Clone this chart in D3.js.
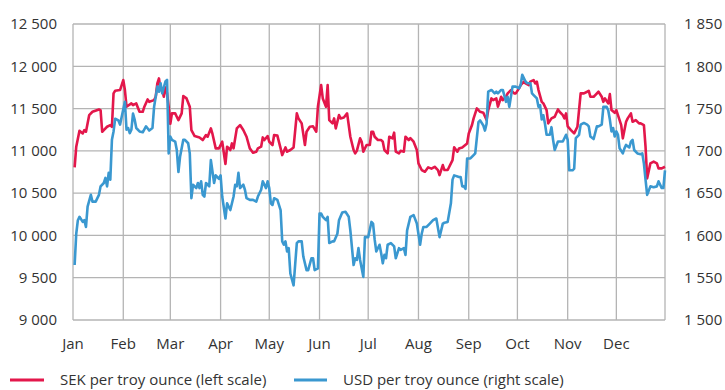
<!DOCTYPE html>
<html>
<head>
<meta charset="utf-8">
<script src="https://cdn.jsdelivr.net/npm/d3@7"></script>
<style>
  html, body { margin: 0; padding: 0; background: #fff; }
  svg { display: block; font-family: "Open Sans", "Noto Sans", sans-serif; }
</style>
</head>
<body>
<svg id="chart" width="725" height="390"></svg>
<script>
// Gold price 2012: SEK per troy ounce (left scale) and USD per troy ounce (right scale)
const monthLabels = ["Jan","Feb","Mar","Apr","May","Jun","Jul","Aug","Sep","Oct","Nov","Dec"];
const sekTicks = [9000, 9500, 10000, 10500, 11000, 11500, 12000, 12500];
const usdTicks = [1500, 1550, 1600, 1650, 1700, 1750, 1800, 1850];
const legendLabels = ["SEK per troy ounce (left scale)", "USD per troy ounce (right scale)"];

const sekSeries = [["2012-01-02",10805],["2012-01-03",11049],["2012-01-05",11237],["2012-01-07",11206],["2012-01-08",11246],["2012-01-09",11226],["2012-01-11",11423],["2012-01-13",11462],["2012-01-17",11490],["2012-01-18",11482],["2012-01-19",11226],["2012-01-20",11246],["2012-01-22",11285],["2012-01-24",11305],["2012-01-25",11285],["2012-01-26",11680],["2012-01-27",11710],["2012-01-30",11719],["2012-01-31",11778],["2012-02-01",11837],["2012-02-02",11719],["2012-02-03",11522],["2012-02-06",11561],["2012-02-07",11541],["2012-02-09",11561],["2012-02-11",11462],["2012-02-13",11462],["2012-02-14",11522],["2012-02-16",11608],["2012-02-17",11580],["2012-02-20",11600],["2012-02-21",11640],["2012-02-22",11797],["2012-02-23",11857],["2012-02-24",11719],["2012-02-25",11720],["2012-02-26",11640],["2012-02-27",11750],["2012-02-28",11680],["2012-02-29",11520],["2012-03-01",11320],["2012-03-02",11443],["2012-03-04",11443],["2012-03-05",11403],["2012-03-06",11364],["2012-03-08",11443],["2012-03-09",11648],["2012-03-11",11620],["2012-03-13",11522],["2012-03-14",11246],["2012-03-16",11175],["2012-03-19",11159],["2012-03-21",11128],["2012-03-23",11187],["2012-03-24",11167],["2012-03-26",11266],["2012-03-27",11200],["2012-03-29",11029],["2012-03-31",11029],["2012-04-02",11108],["2012-04-04",10845],["2012-04-05",11049],["2012-04-07",11010],["2012-04-08",11088],["2012-04-09",11030],["2012-04-11",11266],["2012-04-13",11305],["2012-04-15",11246],["2012-04-17",11167],["2012-04-19",11029],["2012-04-21",10978],["2012-04-23",10990],["2012-04-24",11029],["2012-04-26",11049],["2012-04-27",11159],["2012-04-28",11128],["2012-04-30",11175],["2012-05-01",11108],["2012-05-03",11069],["2012-05-04",11187],["2012-05-06",11180],["2012-05-08",11029],["2012-05-09",10950],["2012-05-11",11041],["2012-05-12",10990],["2012-05-14",11010],["2012-05-16",11041],["2012-05-18",11443],["2012-05-19",11384],["2012-05-21",11325],["2012-05-23",11069],["2012-05-24",11226],["2012-05-26",11285],["2012-05-28",11290],["2012-05-30",11226],["2012-05-31",11522],["2012-06-02",11778],["2012-06-03",11620],["2012-06-05",11522],["2012-06-06",11778],["2012-06-07",11364],["2012-06-09",11325],["2012-06-10",11384],["2012-06-11",11266],["2012-06-13",11423],["2012-06-14",11384],["2012-06-16",11395],["2012-06-18",11443],["2012-06-20",11167],["2012-06-22",11010],["2012-06-23",10970],["2012-06-24",11000],["2012-06-26",11148],["2012-06-27",11108],["2012-06-28",10990],["2012-06-30",11069],["2012-07-02",11069],["2012-07-03",11226],["2012-07-04",11226],["2012-07-05",11167],["2012-07-07",11128],["2012-07-09",11128],["2012-07-10",11108],["2012-07-11",11010],["2012-07-13",10970],["2012-07-14",11167],["2012-07-16",11148],["2012-07-17",11215],["2012-07-18",10990],["2012-07-20",10970],["2012-07-21",11000],["2012-07-23",10990],["2012-07-24",11167],["2012-07-26",11128],["2012-07-27",11150],["2012-07-29",11108],["2012-07-31",11010],["2012-08-01",10852],["2012-08-03",10773],["2012-08-05",10753],["2012-08-07",10805],["2012-08-09",10790],["2012-08-11",10812],["2012-08-13",10773],["2012-08-14",10714],["2012-08-16",10832],["2012-08-17",10773],["2012-08-19",10773],["2012-08-22",10891],["2012-08-23",11041],["2012-08-25",10990],["2012-08-26",11029],["2012-08-28",11041],["2012-08-31",11088],["2012-09-01",11206],["2012-09-03",11305],["2012-09-04",11384],["2012-09-06",11502],["2012-09-08",11462],["2012-09-10",11450],["2012-09-12",11364],["2012-09-13",11482],["2012-09-15",11620],["2012-09-16",11600],["2012-09-18",11620],["2012-09-19",11522],["2012-09-21",11640],["2012-09-22",11600],["2012-09-24",11640],["2012-09-25",11680],["2012-09-27",11719],["2012-09-29",11680],["2012-09-30",11680],["2012-10-02",11739],["2012-10-03",11778],["2012-10-05",11818],["2012-10-06",11797],["2012-10-08",11778],["2012-10-09",11818],["2012-10-11",11837],["2012-10-12",11797],["2012-10-13",11818],["2012-10-14",11719],["2012-10-16",11580],["2012-10-17",11561],["2012-10-19",11482],["2012-10-20",11325],["2012-10-22",11384],["2012-10-24",11403],["2012-10-26",11490],["2012-10-27",11462],["2012-10-29",11423],["2012-10-30",11384],["2012-10-31",11443],["2012-11-01",11290],["2012-11-03",11246],["2012-11-05",11206],["2012-11-07",11285],["2012-11-08",11482],["2012-11-09",11680],["2012-11-11",11680],["2012-11-13",11699],["2012-11-14",11710],["2012-11-15",11640],["2012-11-17",11640],["2012-11-18",11660],["2012-11-20",11699],["2012-11-22",11640],["2012-11-23",11580],["2012-11-24",11620],["2012-11-26",11561],["2012-11-27",11671],["2012-11-28",11482],["2012-11-30",11450],["2012-12-01",11482],["2012-12-02",11423],["2012-12-04",11305],["2012-12-05",11148],["2012-12-07",11344],["2012-12-08",11384],["2012-12-10",11443],["2012-12-11",11344],["2012-12-13",11364],["2012-12-15",11325],["2012-12-16",11325],["2012-12-18",11305],["2012-12-19",11049],["2012-12-20",10675],["2012-12-22",10852],["2012-12-24",10872],["2012-12-26",10852],["2012-12-27",10793],["2012-12-29",10793],["2012-12-31",10812]];

const usdSeries = [["2012-01-02",1565],["2012-01-03",1602],["2012-01-04",1618],["2012-01-05",1622],["2012-01-07",1616],["2012-01-08",1618],["2012-01-09",1610],["2012-01-10",1634],["2012-01-12",1648],["2012-01-13",1640],["2012-01-15",1640],["2012-01-17",1648],["2012-01-18",1658],["2012-01-20",1662],["2012-01-21",1668],["2012-01-22",1658],["2012-01-23",1674],["2012-01-24",1666],["2012-01-25",1713],["2012-01-26",1723],["2012-01-27",1738],["2012-01-29",1736],["2012-01-30",1731],["2012-01-31",1740],["2012-02-02",1758],["2012-02-03",1725],["2012-02-04",1727],["2012-02-05",1721],["2012-02-06",1725],["2012-02-07",1744],["2012-02-08",1737],["2012-02-09",1727],["2012-02-11",1723],["2012-02-13",1722],["2012-02-15",1729],["2012-02-17",1724],["2012-02-19",1727],["2012-02-20",1752],["2012-02-22",1776],["2012-02-23",1770],["2012-02-24",1780],["2012-02-25",1768],["2012-02-27",1782],["2012-02-28",1784],["2012-02-29",1697],["2012-03-01",1717],["2012-03-02",1713],["2012-03-04",1711],["2012-03-05",1701],["2012-03-06",1675],["2012-03-07",1693],["2012-03-09",1713],["2012-03-10",1713],["2012-03-12",1709],["2012-03-13",1697],["2012-03-14",1644],["2012-03-15",1660],["2012-03-17",1656],["2012-03-18",1662],["2012-03-19",1656],["2012-03-20",1664],["2012-03-21",1648],["2012-03-22",1646],["2012-03-23",1662],["2012-03-25",1658],["2012-03-26",1689],["2012-03-28",1662],["2012-03-29",1671],["2012-03-31",1667],["2012-04-01",1671],["2012-04-02",1646],["2012-04-04",1620],["2012-04-05",1638],["2012-04-07",1630],["2012-04-09",1646],["2012-04-10",1660],["2012-04-11",1658],["2012-04-12",1674],["2012-04-13",1656],["2012-04-15",1660],["2012-04-16",1654],["2012-04-17",1644],["2012-04-19",1642],["2012-04-21",1642],["2012-04-23",1640],["2012-04-24",1646],["2012-04-26",1654],["2012-04-27",1664],["2012-04-29",1656],["2012-04-30",1664],["2012-05-01",1656],["2012-05-02",1638],["2012-05-03",1636],["2012-05-04",1644],["2012-05-06",1642],["2012-05-08",1630],["2012-05-09",1593],["2012-05-10",1589],["2012-05-11",1593],["2012-05-12",1581],["2012-05-13",1585],["2012-05-14",1555],["2012-05-16",1541],["2012-05-17",1566],["2012-05-18",1591],["2012-05-19",1593],["2012-05-21",1593],["2012-05-22",1575],["2012-05-24",1559],["2012-05-25",1559],["2012-05-27",1573],["2012-05-28",1573],["2012-05-29",1559],["2012-05-31",1561],["2012-06-01",1626],["2012-06-02",1626],["2012-06-03",1622],["2012-06-05",1618],["2012-06-06",1622],["2012-06-07",1591],["2012-06-09",1593],["2012-06-10",1593],["2012-06-12",1602],["2012-06-13",1618],["2012-06-15",1627],["2012-06-17",1628],["2012-06-19",1622],["2012-06-20",1606],["2012-06-22",1565],["2012-06-23",1573],["2012-06-24",1571],["2012-06-25",1585],["2012-06-26",1571],["2012-06-28",1551],["2012-06-29",1598],["2012-07-01",1598],["2012-07-03",1616],["2012-07-04",1614],["2012-07-05",1595],["2012-07-06",1581],["2012-07-08",1589],["2012-07-09",1579],["2012-07-10",1567],["2012-07-11",1577],["2012-07-12",1573],["2012-07-13",1589],["2012-07-15",1591],["2012-07-17",1587],["2012-07-18",1573],["2012-07-20",1585],["2012-07-21",1583],["2012-07-23",1585],["2012-07-24",1577],["2012-07-25",1606],["2012-07-27",1622],["2012-07-29",1624],["2012-07-31",1614],["2012-08-02",1589],["2012-08-03",1602],["2012-08-04",1610],["2012-08-06",1610],["2012-08-08",1614],["2012-08-10",1618],["2012-08-12",1620],["2012-08-14",1598],["2012-08-16",1614],["2012-08-17",1615],["2012-08-19",1616],["2012-08-21",1638],["2012-08-22",1666],["2012-08-23",1671],["2012-08-26",1669],["2012-08-27",1669],["2012-08-28",1658],["2012-08-29",1658],["2012-08-30",1655],["2012-08-31",1691],["2012-09-02",1691],["2012-09-04",1695],["2012-09-05",1697],["2012-09-07",1734],["2012-09-08",1736],["2012-09-10",1730],["2012-09-11",1724],["2012-09-12",1732],["2012-09-13",1770],["2012-09-15",1772],["2012-09-17",1768],["2012-09-18",1770],["2012-09-19",1768],["2012-09-21",1772],["2012-09-22",1772],["2012-09-24",1758],["2012-09-25",1764],["2012-09-26",1752],["2012-09-28",1776],["2012-09-30",1776],["2012-10-02",1774],["2012-10-03",1778],["2012-10-04",1790],["2012-10-06",1782],["2012-10-07",1780],["2012-10-09",1780],["2012-10-10",1768],["2012-10-11",1766],["2012-10-13",1762],["2012-10-14",1752],["2012-10-15",1754],["2012-10-16",1737],["2012-10-17",1742],["2012-10-18",1732],["2012-10-19",1719],["2012-10-21",1719],["2012-10-22",1728],["2012-10-23",1713],["2012-10-24",1701],["2012-10-26",1711],["2012-10-27",1711],["2012-10-29",1711],["2012-10-31",1719],["2012-11-01",1713],["2012-11-02",1677],["2012-11-04",1677],["2012-11-05",1679],["2012-11-06",1715],["2012-11-08",1719],["2012-11-09",1731],["2012-11-11",1733],["2012-11-13",1731],["2012-11-14",1729],["2012-11-15",1717],["2012-11-17",1714],["2012-11-19",1729],["2012-11-20",1729],["2012-11-22",1731],["2012-11-23",1752],["2012-11-25",1752],["2012-11-26",1748],["2012-11-27",1737],["2012-11-28",1723],["2012-11-29",1727],["2012-11-30",1717],["2012-12-01",1723],["2012-12-02",1719],["2012-12-03",1703],["2012-12-05",1697],["2012-12-06",1703],["2012-12-07",1707],["2012-12-09",1704],["2012-12-10",1711],["2012-12-11",1713],["2012-12-12",1701],["2012-12-14",1697],["2012-12-16",1696],["2012-12-17",1697],["2012-12-18",1685],["2012-12-19",1666],["2012-12-20",1648],["2012-12-22",1658],["2012-12-24",1657],["2012-12-26",1658],["2012-12-27",1664],["2012-12-29",1656],["2012-12-30",1656],["2012-12-31",1677]];

const seriesColors = { sek: "#e3174b", usd: "#3a98d0" };

const parseDate = d3.timeParse("%Y-%m-%d");
const sek = sekSeries.map(([d, v]) => ({ date: parseDate(d), value: v }));
const usd = usdSeries.map(([d, v]) => ({ date: parseDate(d), value: v }));

const plot = { left: 73, right: 665, top: 24, bottom: 320 };

const x = d3.scaleTime()
  .domain([new Date(2012, 0, 1), new Date(2012, 11, 31)])
  .range([plot.left, plot.right]);
const ySek = d3.scaleLinear().domain([9000, 12500]).range([plot.bottom, plot.top]);
const yUsd = d3.scaleLinear().domain([1500, 1850]).range([plot.bottom, plot.top]);

const svg = d3.select("#chart");
const fmt = v => d3.format(",")(v).replace(/,/g, " ");
const gridColor = "#b4b4b4";
const textColor = "#333333";
const fontSize = 15;

// horizontal grid lines
svg.append("g")
  .selectAll("line").data(sekTicks).join("line")
  .attr("x1", plot.left).attr("x2", plot.right)
  .attr("y1", d => ySek(d)).attr("y2", d => ySek(d))
  .attr("stroke", gridColor).attr("stroke-width", 1.3);

// vertical grid lines at month starts
const monthStarts = d3.timeMonth.range(new Date(2012, 0, 1), new Date(2013, 0, 1));
svg.append("g")
  .selectAll("line").data(monthStarts).join("line")
  .attr("x1", d => x(d)).attr("x2", d => x(d))
  .attr("y1", plot.top).attr("y2", plot.bottom)
  .attr("stroke", gridColor).attr("stroke-width", 1.3);

// right frame edge
svg.append("line")
  .attr("x1", plot.right).attr("x2", plot.right)
  .attr("y1", plot.top).attr("y2", plot.bottom)
  .attr("stroke", gridColor).attr("stroke-width", 1.3);

// left axis labels
svg.append("g")
  .selectAll("text").data(sekTicks).join("text")
  .attr("x", 57).attr("y", d => ySek(d))
  .attr("dy", "0.35em")
  .attr("text-anchor", "end")
  .attr("font-size", fontSize).attr("fill", textColor)
  .text(fmt);

// right axis labels
svg.append("g")
  .selectAll("text").data(usdTicks).join("text")
  .attr("x", 684).attr("y", d => yUsd(d))
  .attr("dy", "0.35em")
  .attr("text-anchor", "start")
  .attr("font-size", fontSize).attr("fill", textColor)
  .text(fmt);

// month labels
svg.append("g")
  .selectAll("text").data(monthStarts).join("text")
  .attr("x", d => x(d)).attr("y", 344)
  .attr("dy", "0.35em")
  .attr("text-anchor", "middle")
  .attr("font-size", fontSize).attr("fill", textColor)
  .text((d, i) => monthLabels[i]);

// series lines
const lineSek = d3.line().x(d => x(d.date)).y(d => ySek(d.value));
const lineUsd = d3.line().x(d => x(d.date)).y(d => yUsd(d.value));

svg.append("path").datum(sek)
  .attr("d", lineSek)
  .attr("fill", "none").attr("stroke", seriesColors.sek)
  .attr("stroke-width", 2.6).attr("stroke-linejoin", "round");

svg.append("path").datum(usd)
  .attr("d", lineUsd)
  .attr("fill", "none").attr("stroke", seriesColors.usd)
  .attr("stroke-width", 2.6).attr("stroke-linejoin", "round");

// legend
const legend = [
  { label: legendLabels[0], color: seriesColors.sek, x1: 10, x2: 44, tx: 60 },
  { label: legendLabels[1], color: seriesColors.usd, x1: 294, x2: 327, tx: 343 }
];
const lg = svg.append("g");
lg.selectAll("line").data(legend).join("line")
  .attr("x1", d => d.x1).attr("x2", d => d.x2)
  .attr("y1", 380).attr("y2", 380)
  .attr("stroke", d => d.color).attr("stroke-width", 3);
lg.selectAll("text").data(legend).join("text")
  .attr("x", d => d.tx).attr("y", 380)
  .attr("dy", "0.35em")
  .attr("font-size", fontSize).attr("fill", textColor)
  .text(d => d.label);
</script>
</body>
</html>
